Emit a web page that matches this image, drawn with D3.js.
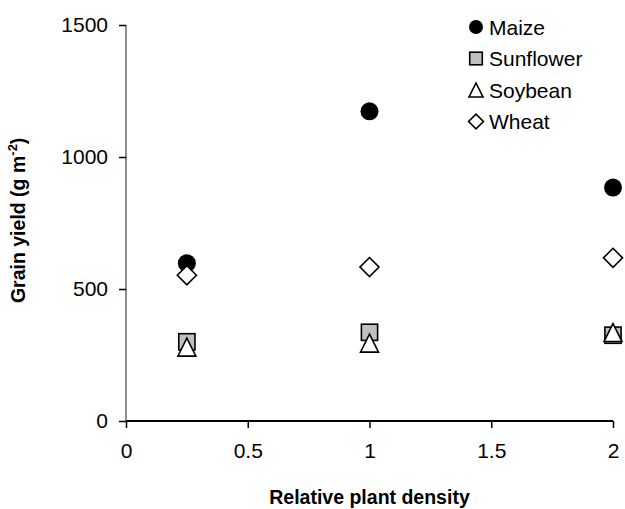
<!DOCTYPE html>
<html lang="en">
<head>
    <meta charset="UTF-8">
    <title>Grain yield</title>
    <script src="https://cdnjs.cloudflare.com/ajax/libs/d3/7.8.5/d3.min.js"></script>
    <style>
        body { margin: 0; background: #fff; }
        text { font-family: "Liberation Sans", Arial, sans-serif; fill: #000; }
    </style>
</head>
<body>
<script type="text/javascript">
    // data
    var density = [0.25, 1, 2];
    var maize = [598, 1173, 884];
    var sunflower = [300, 336, 325];
    var soybean = [280, 295, 335];
    var wheat = [552, 583, 618];
    var xTicks = [0, 0.5, 1, 1.5, 2];
    var yTicks = [0, 500, 1000, 1500];

    var series = [
        {name: "Maize", values: maize, shape: "circle"},
        {name: "Sunflower", values: sunflower, shape: "square"},
        {name: "Soybean", values: soybean, shape: "triangle"},
        {name: "Wheat", values: wheat, shape: "diamond"}
    ];

    var width = 625, height = 509;
    var svg = d3.select("body").append("svg")
            .attr("width", width)
            .attr("height", height);

    var x = d3.scaleLinear().domain([0, 2]).range([126, 613]);
    var y = d3.scaleLinear().domain([0, 1500]).range([421, 25]);

    // axes
    var xAxis = svg.append("g")
            .attr("transform", "translate(0," + y(0) + ")")
            .call(d3.axisBottom(x).tickValues(xTicks).tickSize(7).tickPadding(12)
                    .tickFormat(function(d) { return d; }));
    var yAxis = svg.append("g")
            .attr("transform", "translate(" + x(0) + ",0)")
            .call(d3.axisLeft(y).tickValues(yTicks).tickSize(7).tickPadding(11)
                    .tickFormat(function(d) { return d; }));
    xAxis.select(".domain").attr("stroke", "#000").attr("stroke-width", 2)
            .attr("d", "M" + x(0) + ",0H" + x(2));
    yAxis.select(".domain").attr("stroke", "#444").attr("stroke-width", 1.2)
            .attr("d", "M0," + y(0) + "V" + y(1500));
    svg.selectAll(".tick line").attr("stroke", "#000").attr("stroke-width", 1.5);
    svg.selectAll(".tick text").style("font-size", "21px").style("font-family", "Liberation Sans, Arial, sans-serif");
    xAxis.selectAll(".tick text").attr("dy", "0.85em");

    // marker shapes
    function marker(sel, shape, s) {
        if (shape == "circle") {
            sel.append("circle").attr("r", s * 0.5).attr("fill", "#000");
        } else if (shape == "square") {
            sel.append("rect").attr("x", -s * 0.45).attr("y", -s * 0.45)
                    .attr("width", s * 0.9).attr("height", s * 0.9)
                    .attr("fill", "#c0c0c0").attr("stroke", "#000").attr("stroke-width", 1.6);
        } else if (shape == "triangle") {
            var h = s * 0.5;
            sel.append("path").attr("d", "M0," + (-h) + "L" + h + "," + h + "L" + (-h) + "," + h + "Z")
                    .attr("fill", "#fff").attr("stroke", "#000").attr("stroke-width", 1.6);
        } else {
            var r = s * 0.53;
            sel.append("path").attr("d", "M0," + (-r) + "L" + r + ",0L0," + r + "L" + (-r) + ",0Z")
                    .attr("fill", "#fff").attr("stroke", "#000").attr("stroke-width", 1.6);
        }
    }

    series.forEach(function(s) {
        svg.append("g").selectAll("g")
                .data(s.values)
                .enter()
                .append("g")
                .attr("transform", function(d, i) { return "translate(" + x(density[i]) + "," + y(d) + ")"; })
                .each(function() { marker(d3.select(this), s.shape, 18); });
    });

    // legend
    var legend = svg.append("g").attr("transform", "translate(476,27)");
    series.forEach(function(s, i) {
        var g = legend.append("g").attr("transform", "translate(0," + (i * 31.5) + ")");
        marker(g, s.shape, 14);
        g.append("text").attr("x", 13).attr("y", 7.5).style("font-size", "21px").text(s.name);
    });

    // axis titles
    svg.append("text")
            .attr("x", (x(0) + x(2)) / 2)
            .attr("y", 504)
            .attr("text-anchor", "middle")
            .style("font-size", "19.5px")
            .style("font-weight", "bold")
            .text("Relative plant density");

    var yt = svg.append("text")
            .attr("transform", "translate(25," + y(760) + ") rotate(-90)")
            .attr("text-anchor", "middle")
            .style("font-size", "19.5px")
            .style("font-weight", "bold");
    yt.append("tspan").text("Grain yield (g m");
    yt.append("tspan").attr("dy", -8).style("font-size", "13px").text("-2");
    yt.append("tspan").attr("dy", 8).text(")");
</script>
</body>
</html>
